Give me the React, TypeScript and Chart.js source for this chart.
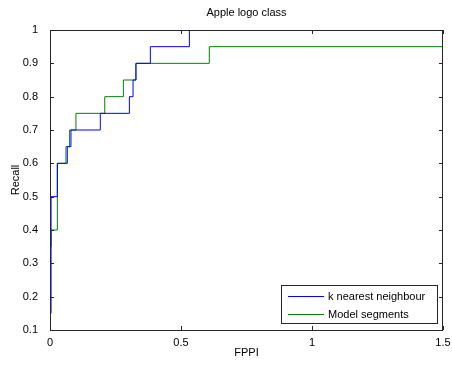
import React, { useEffect, useRef } from "react";
import { Chart, registerables } from "chart.js";

Chart.register(...registerables);

const knnFppi = [0.004, 0.004, 0.028, 0.066, 0.08, 0.192, 0.303, 0.317, 0.328, 0.383, 0.532, 1.5];
const knnRecall = [0.15, 0.5, 0.6, 0.65, 0.7, 0.75, 0.8, 0.85, 0.9, 0.95, 1.0, 1.0];
const segFppi = [0.004, 0.004, 0.028, 0.061, 0.075, 0.099, 0.209, 0.28, 0.328, 0.608, 1.5];
const segRecall = [0.35, 0.4, 0.6, 0.65, 0.7, 0.75, 0.8, 0.85, 0.9, 0.95, 0.95];
const xTicks = [0, 0.5, 1, 1.5];
const yTicks = [0.1, 0.2, 0.3, 0.4, 0.5, 0.6, 0.7, 0.8, 0.9, 1];
const seriesNames = ["k nearest neighbour", "Model segments"];
const titleText = "Apple logo class";
const xLabel = "FPPI";
const yLabel = "Recall";

const FONT = "'Liberation Sans', Arial, sans-serif";

const framePlugin = {
  id: "matlabFrame",
  afterDraw(chart: any) {
    const { ctx, chartArea } = chart;
    const { left, right, top, bottom } = chartArea;
    const xs = chart.scales.x;
    const ys = chart.scales.y;
    ctx.save();
    ctx.strokeStyle = "#262626";
    ctx.lineWidth = 1;
    ctx.beginPath();
    ctx.rect(Math.round(left) + 0.5, Math.round(top) + 0.5, Math.round(right - left) - 1, Math.round(bottom - top));
    ctx.stroke();
    const tl = 4;
    ctx.beginPath();
    xTicks.forEach((v) => {
      const px = Math.round(xs.getPixelForValue(v)) + 0.5;
      ctx.moveTo(px, bottom);
      ctx.lineTo(px, bottom - tl);
      ctx.moveTo(px, top);
      ctx.lineTo(px, top + tl);
    });
    yTicks.forEach((v) => {
      const py = Math.round(ys.getPixelForValue(v)) + 0.5;
      ctx.moveTo(left, py);
      ctx.lineTo(left + tl, py);
      ctx.moveTo(right, py);
      ctx.lineTo(right - tl, py);
    });
    ctx.stroke();

    // titles
    ctx.fillStyle = "#000";
    ctx.font = `11px ${FONT}`;
    ctx.textAlign = "center";
    ctx.textBaseline = "middle";
    const cx = (left + right) / 2;
    ctx.fillText(titleText, cx, 13);
    ctx.fillText(xLabel, cx, 353);
    ctx.save();
    ctx.translate(16, (top + bottom) / 2);
    ctx.rotate(-Math.PI / 2);
    ctx.fillText(yLabel, 0, 0);
    ctx.restore();

    // legend
    const bx = 281.5, by = 285.5, bw = 156, bh = 38;
    ctx.fillStyle = "#fff";
    ctx.fillRect(bx, by, bw, bh);
    ctx.strokeStyle = "#262626";
    ctx.strokeRect(bx, by, bw, bh);
    ctx.textAlign = "left";
    chart.data.datasets.forEach((ds: any, i: number) => {
      const y = Math.round(by + 10 + i * 18) + 0.5;
      ctx.strokeStyle = ds.borderColor;
      ctx.beginPath();
      ctx.moveTo(288, y);
      ctx.lineTo(324, y);
      ctx.stroke();
      ctx.fillStyle = "#000";
      ctx.fillText(ds.label, 328, y);
    });
    ctx.restore();
  },
};

export default function App() {
  const ref = useRef<HTMLCanvasElement>(null);
  useEffect(() => {
    if (!ref.current) return;
    const chart = new Chart(ref.current, {
      type: "line",
      data: {
        datasets: [
          {
            label: seriesNames[0],
            data: knnFppi.map((x, i) => ({ x, y: knnRecall[i] })),
            borderColor: "#0000ff",
            borderWidth: 1,
            pointRadius: 0,
            stepped: "before",
            fill: false,
          },
          {
            label: seriesNames[1],
            data: segFppi.map((x, i) => ({ x, y: segRecall[i] })),
            borderColor: "#008000",
            borderWidth: 1,
            pointRadius: 0,
            stepped: "before",
            fill: false,
          },
        ],
      },
      options: {
        responsive: false,
        animation: false,
        devicePixelRatio: 1,
        layout: { padding: { left: 0, right: 9, top: 30, bottom: 0 } },
        plugins: { legend: { display: false }, tooltip: { enabled: false }, title: { display: false } },
        scales: {
          x: {
            type: "linear",
            min: 0,
            max: 1.5,
            grid: { display: false },
            border: { display: false },
            afterBuildTicks: (s: any) => {
              s.ticks = xTicks.map((v) => ({ value: v }));
            },
            afterFit: (s: any) => {
              s.height = 35;
              s.paddingLeft = 0;
              s.paddingRight = 0;
            },
            ticks: {
              color: "#000",
              font: { family: FONT, size: 11 },
              padding: -2,
              maxRotation: 0,
              callback: (v: any) => String(v),
            },
          },
          y: {
            type: "linear",
            min: 0.1,
            max: 1,
            grid: { display: false },
            border: { display: false },
            afterBuildTicks: (s: any) => {
              s.ticks = yTicks.map((v) => ({ value: v }));
            },
            afterFit: (s: any) => {
              s.width = 50;
              s.paddingTop = 0;
              s.paddingBottom = 0;
            },
            ticks: {
              color: "#000",
              font: { family: FONT, size: 11 },
              padding: 4,
              callback: (v: any) => String(Math.round(v * 10) / 10),
            },
          },
        },
      },
      plugins: [framePlugin],
    } as any);
    return () => chart.destroy();
  }, []);
  return (
    <div style={{ position: "fixed", left: 0, top: 0, width: 452, height: 365, background: "#fff" }}>
      <canvas ref={ref} width={452} height={365} style={{ width: 452, height: 365, display: "block" }} />
    </div>
  );
}
